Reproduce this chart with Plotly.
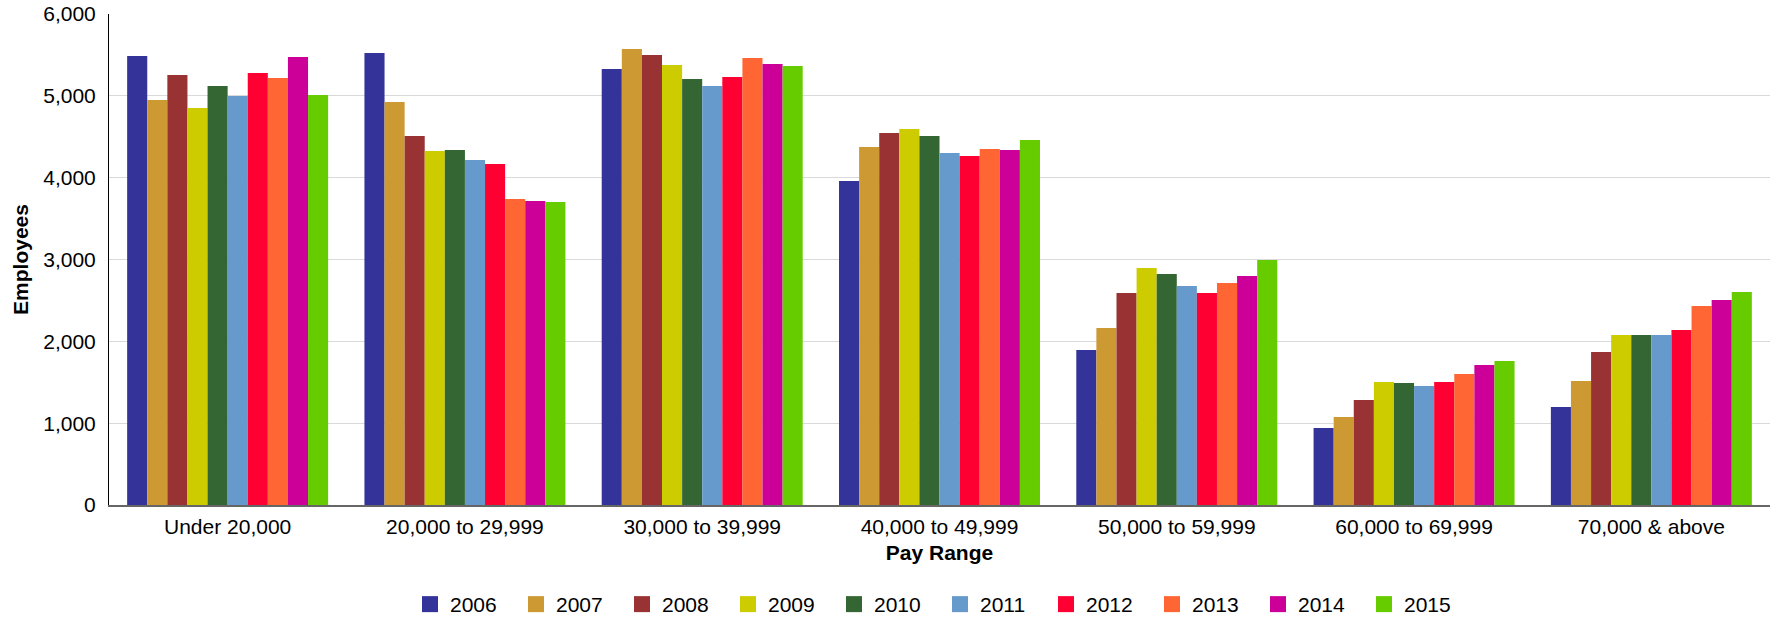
import plotly.graph_objects as go

categories = ["Under 20,000", "20,000 to 29,999", "30,000 to 39,999", "40,000 to 49,999",
              "50,000 to 59,999", "60,000 to 69,999", "70,000 & above"]
years = ["2006", "2007", "2008", "2009", "2010", "2011", "2012", "2013", "2014", "2015"]

v2006 = [5487, 5523, 5328, 3959, 1894, 941, 1198]
v2007 = [4949, 4925, 5572, 4375, 2163, 1075, 1515]
v2008 = [5255, 4509, 5499, 4546, 2591, 1283, 1870]
v2009 = [4851, 4326, 5377, 4595, 2896, 1503, 2077]
v2010 = [5120, 4338, 5206, 4509, 2823, 1491, 2077]
v2011 = [4998, 4216, 5120, 4301, 2676, 1454, 2077]
v2012 = [5279, 4167, 5230, 4265, 2591, 1503, 2138]
v2013 = [5218, 3739, 5462, 4350, 2713, 1601, 2432]
v2014 = [5475, 3715, 5389, 4338, 2798, 1711, 2505]
v2015 = [5010, 3703, 5365, 4460, 2994, 1760, 2603]

series = [v2006, v2007, v2008, v2009, v2010, v2011, v2012, v2013, v2014, v2015]
colors = ["#333399", "#CC9933", "#993333", "#CCCC00", "#336633",
          "#6699CC", "#FF0033", "#FF6633", "#CC0099", "#66CC00"]

FONT = "Liberation Sans, Arial, sans-serif"

fig = go.Figure()
for yr, vals, col in zip(years, series, colors):
    fig.add_trace(go.Bar(x=categories, y=vals, name=yr, marker_color=col,
                         marker_line_width=0, showlegend=False, legendgroup=yr))
for yr, col in zip(years, colors):
    fig.add_trace(go.Scatter(x=[None], y=[None], mode="markers", name=yr,
                             marker=dict(symbol="square", size=16, color=col),
                             legendgroup=yr, showlegend=True))

fig.update_layout(
    width=1773, height=618,
    margin=dict(l=109, r=3, t=14, b=113, autoexpand=False),
    paper_bgcolor="white", plot_bgcolor="white",
    barmode="group", bargap=0.153, bargroupgap=0,
    font=dict(family=FONT, size=21, color="#000000"),
    showlegend=True,
    legend=dict(orientation="h", x=0.1812, xanchor="left", y=-0.2026, yanchor="middle",
                entrywidth=61, entrywidthmode="pixels",
                font=dict(family=FONT, size=21, color="#000000"),
                bgcolor="rgba(0,0,0,0)", itemclick=False),
    xaxis=dict(
        title=dict(text="<b>Pay Range</b>", font=dict(family=FONT, size=21), standoff=8),
        showline=True, linecolor="#666666", linewidth=2,
        showgrid=False, ticks="", tickfont=dict(family=FONT, size=21),
        ticklabelstandoff=2,
        automargin=False,
    ),
    yaxis=dict(
        title=dict(text="<b>Employees</b>", font=dict(family=FONT, size=21), standoff=8),
        range=[0, 6000], tickvals=[0, 1000, 2000, 3000, 4000, 5000, 6000],
        tickformat=",d",
        showline=True, linecolor="#000000", linewidth=1,
        showgrid=True, gridcolor="#d9d9d9", gridwidth=1,
        zeroline=False, ticks="", tickfont=dict(family=FONT, size=21),
        ticklabelstandoff=8,
        automargin=False,
    ),
)

fig.write_html("out.html", config={"displayModeBar": False},
               post_script="document.body.style.margin='0px';document.body.style.overflow='hidden';")
